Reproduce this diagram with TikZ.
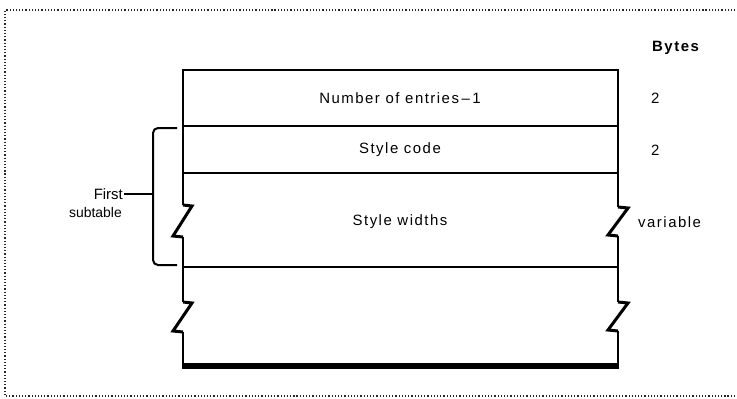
\documentclass[tikz,border=0pt]{standalone}
\usepackage{fontspec}
\setmainfont{Liberation Sans}[LetterSpace=10]
\newfontfamily\tightfont{Liberation Sans}
\begin{document}
\begin{tikzpicture}[x=1bp,y=-1bp,
  lbl/.style={inner sep=0pt, font=\fontsize{15}{18}\selectfont},
  boxline/.style={line width=2bp},
  zig/.style={line width=3bp, line join=miter},
  border/.style={dotted, line width=1.2bp, black!85}]
\useasboundingbox (0,0) rectangle (737,398);
% dotted frame
\draw[border] (745,10) -- (5,10) -- (5,396) -- (745,396);
% horizontal lines
\draw[boxline] (183,70) -- (618,70);
\draw[boxline] (183,126) -- (618,126);
\draw[boxline] (183,173) -- (618,173);
\draw[boxline] (183,267) -- (618,267);
\draw[line width=6bp] (182,366) -- (619,366);
% left side with breaks
\draw[boxline] (183,69) -- (183,205);
\draw[zig] (183,205) -- (192,206) -- (173,236) -- (183,237);
\draw[boxline] (183,237) -- (183,302);
\draw[zig] (183,302) -- (192,303) -- (173,331) -- (183,332);
\draw[boxline] (183,332) -- (183,366);
% right side with breaks
\draw[boxline] (618,69) -- (618,207);
\draw[zig] (618,207) -- (628,208) -- (608,235) -- (618,236);
\draw[boxline] (618,236) -- (618,302);
\draw[zig] (618,302) -- (628,303) -- (608,330) -- (618,331);
\draw[boxline] (618,331) -- (618,366);
% texts in box
\node[lbl] (n1) at (400,98) {Number of entries\,–\,1};
\node[lbl] (n2) at (400,150) {Style code};
\node[lbl] (n3) at (400,222) {Style widths};
% bytes column
\node[lbl, font=\fontsize{15}{18}\selectfont\bfseries, anchor=west] (bytes) at (652,48) {Bytes};
\node[lbl, anchor=west] (b1) at (651,98) {2};
\node[lbl, anchor=west] (b2) at (651,150) {2};
\node[lbl, anchor=west] (b3) at (638,222) {variable};
% brace
\draw[boxline, rounded corners=5bp] (177,128) -- (153,128) -- (153,265) -- (177,265);
\node[lbl, font=\fontsize{15}{18}\selectfont\tightfont, anchor=east] (first) at (123,194) {First};
\node[lbl, font=\fontsize{14}{17}\selectfont\tightfont, anchor=east] (sub) at (122,213) {subtable};
\draw[boxline] (first.east) ++(1,0) coordinate (fe) -- (153,194);
\end{tikzpicture}
\end{document}
